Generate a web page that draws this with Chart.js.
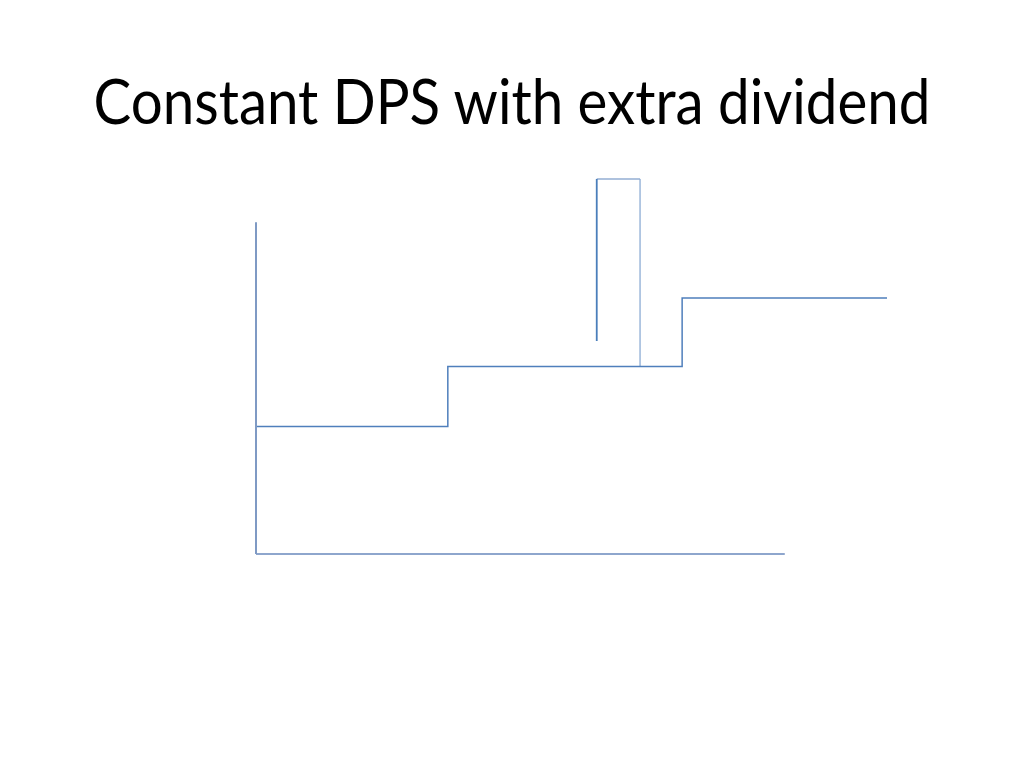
<!DOCTYPE html>
<html>
<head>
<meta charset="utf-8">
<script src="https://cdn.jsdelivr.net/npm/chart.js@4/dist/chart.umd.min.js"></script>
<style>
  html, body { margin: 0; padding: 0; background: #ffffff; }
  #wrap { position: relative; width: 1024px; height: 768px; overflow: hidden; }
  #title {
    position: absolute; left: 0; top: 0; width: 1024px; text-align: center;
    font-family: Lato, "Liberation Sans", sans-serif; color: #000; white-space: nowrap;
    transform-origin: 50% 88.7%;
  }
  canvas { position: absolute; left: 0; top: 0; }
</style>
</head>
<body>
<div id="wrap">
  <div id="title">Constant DPS with extra dividend</div>
  <canvas id="c" width="1024" height="768"></canvas>
</div>
<script>
// ---- data (time in periods, DPS in arbitrary units) ----
const titleText = "Constant DPS with extra dividend";
const xMax = 15;                 // end of the time range
const yMax = 10;                 // top of the value range
const axisTop = 8.85;            // top of the drawn vertical axis
const axisEnd = 12.57;           // right end of the drawn horizontal axis
const stepTimes = [0, 4.56, 9.13, 10.13, 15];   // when DPS changes
const dpsLevels = [3.4, 5.0, 5.0, 6.83, 6.83];  // constant DPS
const extraStart = 8.1;          // extra dividend period start
const extraEnd = 9.13;           // extra dividend period end
const extraLevel = 10;           // DPS incl. extra dividend
const extraLeftBottom = 5.68;    // bottom of left edge of extra dividend

// title sizing
const titleEl = document.getElementById('title');
(function fitTitle(){
  const ctx = document.createElement('canvas').getContext('2d');
  const target = 838;
  ctx.font = '100px Lato';
  const w = ctx.measureText(titleText).width;
  const size = 100 * target / w;
  titleEl.style.fontSize = size.toFixed(2) + 'px';
  titleEl.style.lineHeight = size.toFixed(2) + 'px';
  titleEl.style.height = size.toFixed(2) + 'px';
  titleEl.style.top = (124 - size * 0.887).toFixed(2) + 'px';
  const capH = size * 0.716;
  titleEl.style.transform = 'scale(1,' + (45 / capH).toFixed(3) + ')';
})();

// build step series
const stepPts = [];
for (let i = 0; i < stepTimes.length - 1; i++) {
  stepPts.push({x: stepTimes[i], y: dpsLevels[i]});
  stepPts.push({x: stepTimes[i+1], y: dpsLevels[i]});
}

const base = { showLine: true, pointRadius: 0, borderWidth: 1.5, clip: false, tension: 0 };

new Chart(document.getElementById('c'), {
  type: 'scatter',
  data: {
    datasets: [
      Object.assign({}, base, { label: 'y axis', borderColor: '#7f9ac4', borderWidth: 2,
        data: [{x: 0, y: axisTop}, {x: 0, y: 0}] }),
      Object.assign({}, base, { label: 'x axis', borderColor: '#8ea6cd', borderWidth: 2,
        data: [{x: 0, y: 0}, {x: axisEnd, y: 0}] }),
      Object.assign({}, base, { label: 'DPS', borderColor: '#4f7fbc',
        data: stepPts }),
      Object.assign({}, base, { label: 'extra left', borderColor: '#4a7ebb', borderWidth: 1.8,
        data: [{x: extraStart, y: extraLeftBottom}, {x: extraStart, y: extraLevel}] }),
      Object.assign({}, base, { label: 'extra top', borderColor: '#93aed3',
        data: [{x: extraStart, y: extraLevel}, {x: extraEnd, y: extraLevel}] }),
      Object.assign({}, base, { label: 'extra right', borderColor: '#adc4e0', borderWidth: 1.8,
        data: [{x: extraEnd, y: extraLevel}, {x: extraEnd, y: dpsLevels[2]}] })
    ]
  },
  options: {
    responsive: false,
    animation: false,
    devicePixelRatio: 1,
    layout: { padding: { left: 256, right: 137, top: 179, bottom: 214 } },
    plugins: { legend: { display: false }, tooltip: { enabled: false }, title: { display: false } },
    scales: {
      x: { type: 'linear', min: 0, max: xMax, display: false },
      y: { type: 'linear', min: 0, max: yMax, display: false }
    }
  }
});
</script>
</body>
</html>
